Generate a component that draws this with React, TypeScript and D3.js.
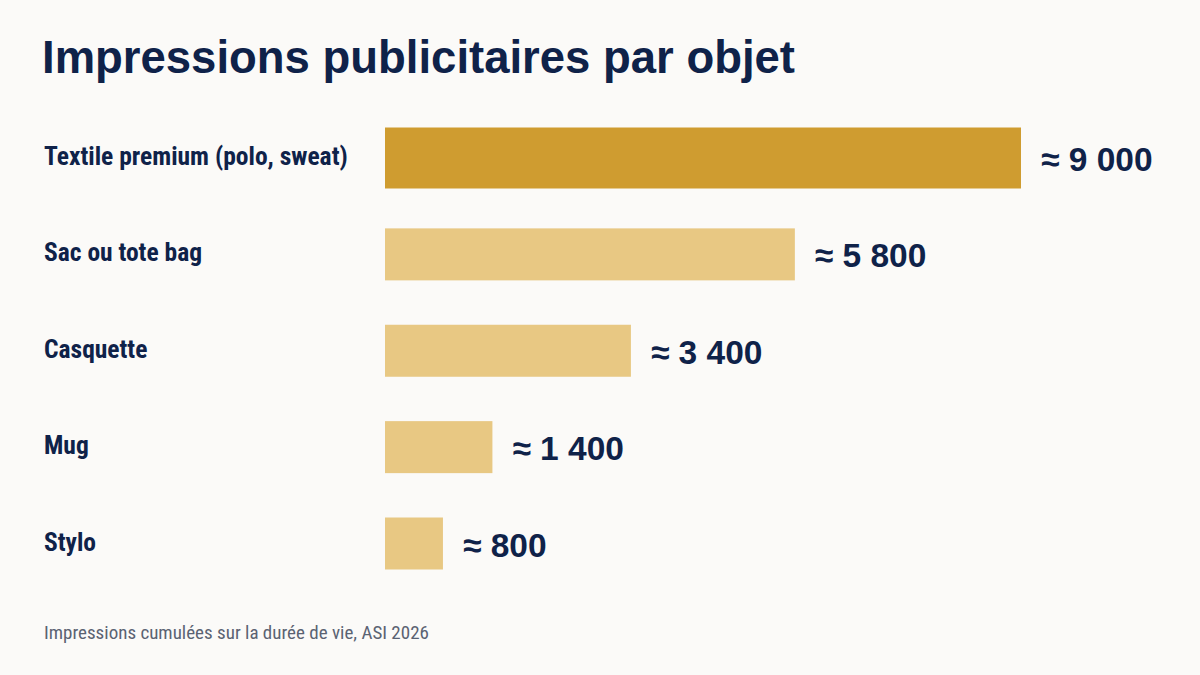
import * as React from 'react';
import * as d3 from 'd3';

// chart data (bar lengths, labels as printed)
const categories = ['Textile premium (polo, sweat)', 'Sac ou tote bag', 'Casquette', 'Mug', 'Stylo'];
const impressions = [9000, 5800, 3480, 1520, 820];
const valueLabels = ['≈ 9 000', '≈ 5 800', '≈ 3 400', '≈ 1 400', '≈ 800'];
const highlighted = 'Textile premium (polo, sweat)';

const title = 'Impressions publicitaires par objet';
const footnote = 'Impressions cumulées sur la durée de vie, ASI 2026';

const W = 1200;
const H = 675;
const bg = '#fbfaf8';
const navy = '#0f2249';
const narrow = '"Liberation Sans Narrow", "Roboto Condensed", "Liberation Sans", Arial, sans-serif';
const sans = '"Liberation Sans", Arial, sans-serif';

export default function App() {
    const svgRef = React.useRef<SVGSVGElement>(null);

    React.useEffect(() => {
        document.body.style.margin = '0';
        document.body.style.background = bg;

        const svg = d3.select(svgRef.current);
        svg.selectAll('*').remove();

        const xScale = d3.scaleLinear().domain([0, 9000]).range([385, 1021]);
        const yScale = d3.scalePoint<string>().domain(categories).range([158, 543.5]);

        const rows = categories.map((c, i) => ({ cat: c, value: impressions[i], label: valueLabels[i] }));

        svg.append('rect')
            .attr('width', W)
            .attr('height', H)
            .attr('fill', bg);

        svg.append('text')
            .attr('x', 42)
            .attr('y', 73)
            .attr('font-family', sans)
            .attr('font-weight', 'bold')
            .attr('font-size', 46)
            .attr('textLength', 753)
            .attr('lengthAdjust', 'spacingAndGlyphs')
            .attr('fill', navy)
            .text(title);

        const g = svg.append('g');

        g.selectAll('.bar')
            .data(rows)
            .enter()
            .append('rect')
            .attr('class', 'bar')
            .attr('x', xScale(0))
            .attr('y', function(d) { return yScale(d.cat) - (d.cat === highlighted ? 30.5 : 26) })
            .attr('width', function(d) { return xScale(d.value) - xScale(0) })
            .attr('height', function(d) { return d.cat === highlighted ? 61 : 52 })
            .attr('fill', function(d) { return d.cat === highlighted ? '#cf9c30' : '#e8c883' });

        g.selectAll('.cat-label')
            .data(rows)
            .enter()
            .append('text')
            .attr('class', 'cat-label')
            .attr('x', 44)
            .attr('y', function(d) { return yScale(d.cat) + 7 })
            .attr('font-family', narrow)
            .attr('font-weight', 'bold')
            .attr('font-size', 25.5)
            .attr('fill', navy)
            .text(function(d) { return d.cat });

        g.selectAll('.value-label')
            .data(rows)
            .enter()
            .append('text')
            .attr('class', 'value-label')
            .attr('x', function(d) { return xScale(d.value) + 20 })
            .attr('y', function(d) { return yScale(d.cat) + 13 })
            .attr('font-family', sans)
            .attr('font-weight', 'bold')
            .attr('font-size', 33.5)
            .attr('fill', navy)
            .text(function(d) { return d.label });

        svg.append('text')
            .attr('x', 44)
            .attr('y', 639)
            .attr('font-family', narrow)
            .attr('font-size', 19)
            .attr('fill', '#5a6272')
            .text(footnote);
    }, []);

    return (
        <svg ref={svgRef} width={W} height={H} style={{ display: 'block' }} />
    );
}
